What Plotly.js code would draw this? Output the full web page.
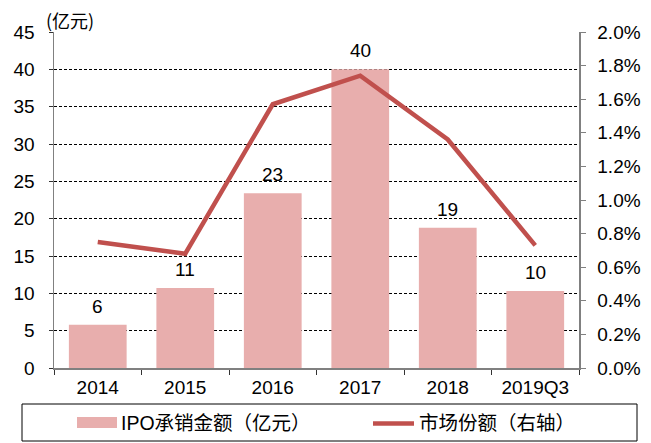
<!DOCTYPE html>
<html>
<head>
<meta charset="utf-8">
<script src="https://cdn.plot.ly/plotly-3.0.1.min.js"></script>
<style>html,body{margin:0;padding:0;background:#fff;}#chart{width:651px;height:443px;}</style>
</head>
<body>
<div id="chart"></div>
<script>
// Data
var categories = ["2014", "2015", "2016", "2017", "2018", "2019Q3"];
var ipoAmount = [5.8, 10.7, 23.4, 40.0, 18.8, 10.3];          // 亿元, left axis
var marketShare = [0.0075, 0.0068, 0.0157, 0.0174, 0.0136, 0.0073]; // right axis
var barLabels = ["6", "11", "23", "40", "19", "10"];
var legendNames = ["IPO承销金额（亿元）", "市场份额（右轴）"];
var unitLabel = "(亿元)";

var W = 651, H = 443, ML = 54, MR = 72, MT = 32, MB = 75;
var PW = W - ML - MR, PH = H - MT - MB;
function px(x) { return (x - ML) / PW; }
function py(y) { return (H - MB - y) / PH; }

var barColor = "#E8AEAD";
var lineColor = "#C0504D";
var fontLatin = "Liberation Sans Narrow, Arial Narrow, Liberation Sans, sans-serif";
var fontCJK = "Liberation Sans, Noto Sans CJK SC, sans-serif";
var tickSize = 19;

var traces = [
  {
    type: "bar", x: categories, y: ipoAmount, name: legendNames[0],
    marker: {color: barColor}, showlegend: false, hoverinfo: "none"
  },
  {
    type: "scatter", mode: "lines", x: categories, y: marketShare, yaxis: "y2",
    name: legendNames[1], line: {color: lineColor, width: 4.5},
    showlegend: false, cliponaxis: false, hoverinfo: "none"
  }
];

var annotations = categories.map(function (c, i) {
  return {
    x: i, y: ipoAmount[i], xref: "x", yref: "y", text: barLabels[i],
    showarrow: false, yanchor: "bottom", yshift: 6,
    font: {family: fontLatin, size: tickSize, color: "#000"}
  };
});
annotations.push({
  x: px(44), y: py(20), xref: "paper", yref: "paper", text: unitLabel,
  xanchor: "left", yanchor: "middle", showarrow: false,
  font: {family: "Liberation Sans Narrow, Noto Sans CJK SC, sans-serif", size: 18, color: "#000"}
});
annotations.push({
  x: px(119), y: py(423), xref: "paper", yref: "paper", text: legendNames[0],
  xanchor: "left", yanchor: "middle", showarrow: false,
  font: {family: fontCJK, size: 19.5, color: "#000"}
});
annotations.push({
  x: px(417), y: py(423), xref: "paper", yref: "paper", text: legendNames[1],
  xanchor: "left", yanchor: "middle", showarrow: false,
  font: {family: fontCJK, size: 19.5, color: "#000"}
});

var shapes = [
  {type: "rect", xref: "paper", yref: "paper", x0: px(22), x1: px(637), y0: py(441), y1: py(404),
   line: {color: "#000", width: 1}, fillcolor: "rgba(0,0,0,0)"},
  {type: "rect", xref: "paper", yref: "paper", x0: px(77), x1: px(117), y0: py(428), y1: py(417),
   line: {width: 0}, fillcolor: barColor},
  {type: "line", xref: "paper", yref: "paper", x0: px(373), x1: px(414), y0: py(423.5), y1: py(423.5),
   line: {color: lineColor, width: 4.5}}
];

var layout = {
  width: W, height: H,
  margin: {l: ML, r: MR, t: MT, b: MB, pad: 0},
  paper_bgcolor: "#fff", plot_bgcolor: "#fff",
  bargap: 0.34,
  showlegend: false,
  font: {family: fontLatin, size: tickSize, color: "#000"},
  xaxis: {
    type: "category", range: [-0.5, 5.5], fixedrange: true,
    showline: true, linecolor: "#808080", linewidth: 1.5,
    ticks: "outside", tickson: "boundaries", ticklen: 5, tickcolor: "#333", tickwidth: 1,
    ticklabelstandoff: 2,
    showgrid: false, tickfont: {family: fontLatin, size: tickSize, color: "#000"}
  },
  yaxis: {
    range: [0, 45], dtick: 5, tick0: 0, fixedrange: true,
    showline: true, linecolor: "#808080", linewidth: 1.5,
    ticks: "outside", ticklen: 4, tickcolor: "#333",
    ticklabelstandoff: 10,
    showgrid: true, gridcolor: "#000", gridwidth: 1, griddash: "3px,2px",
    zeroline: false, tickfont: {family: fontLatin, size: tickSize, color: "#000"}
  },
  yaxis2: {
    overlaying: "y", side: "right", range: [0, 0.02], dtick: 0.002, tick0: 0,
    tickformat: ".1%", fixedrange: true,
    showline: true, linecolor: "#808080", linewidth: 1.5,
    ticks: "outside", ticklen: 5, tickcolor: "#808080",
    ticklabelstandoff: 8,
    showgrid: false, zeroline: false, tickfont: {family: fontLatin, size: tickSize, color: "#000"}
  },
  annotations: annotations,
  shapes: shapes
};

Plotly.newPlot("chart", traces, layout, {displayModeBar: false, staticPlot: true});
</script>
</body>
</html>
